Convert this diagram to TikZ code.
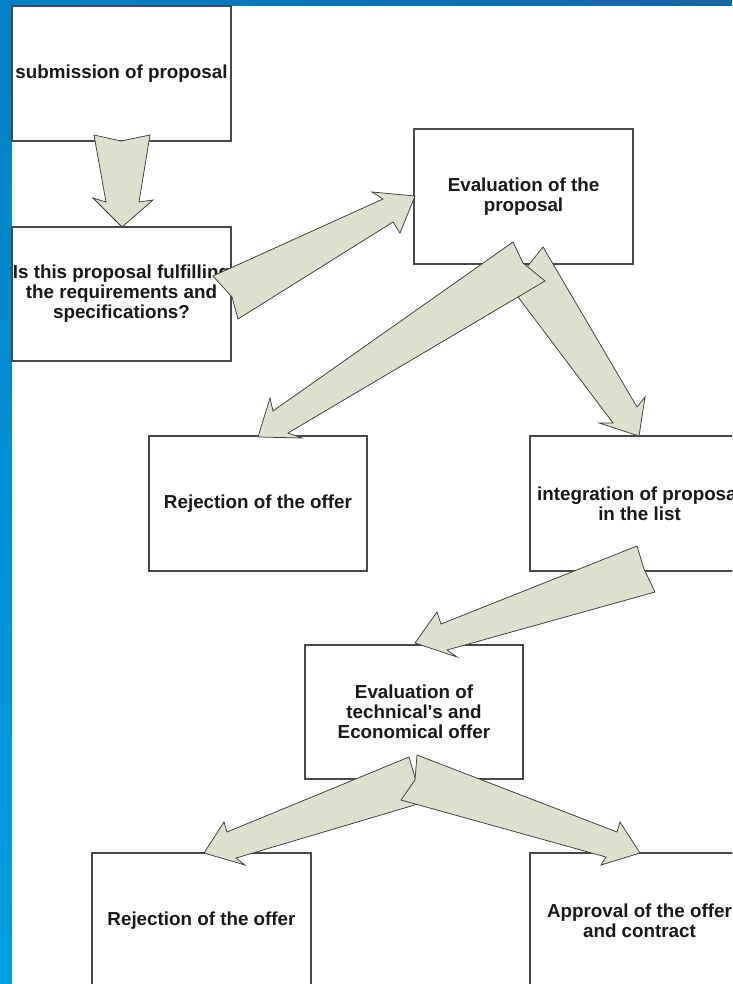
\documentclass[tikz,border=0pt]{standalone}
\usepackage{fontspec}
\newfontfamily\lblfont{Liberation Sans}
\definecolor{arrowfill}{RGB}{221,224,204}
\definecolor{arrowline}{RGB}{60,60,60}
\definecolor{boxline}{RGB}{72,72,72}
\definecolor{stripA}{RGB}{4,128,198}
\definecolor{stripB}{RGB}{26,100,168}
\definecolor{stripC}{RGB}{0,158,224}
\definecolor{txt}{RGB}{25,25,25}
\begin{document}
\begin{tikzpicture}[x=1pt,y=-1pt,
  box/.style={draw=boxline,line width=1.1pt,fill=white,minimum width=219pt,
    minimum height=135pt,inner sep=0pt,align=center,text=txt,
    font=\lblfont\bfseries\fontsize{18.8}{20}\selectfont},
  blockarrow/.style={fill=arrowfill,draw=arrowline,line width=0.75pt,line join=miter}]
\useasboundingbox (0,0) rectangle (732,984);
\clip (0,0) rectangle (732,984);
% background
\shade[top color=stripA,bottom color=stripC] (0,0) rectangle (12,984);
\shade[left color=stripA,right color=stripB] (0,0) rectangle (732,6);
\fill[white] (12,6) rectangle (732,984);
% boxes
\node[box] (b1) at (121.5,73.5) {submission of proposal};
\node[box,minimum height=134pt] (b2) at (121.5,294) {Is this proposal fulfilling\\the requirements and\\specifications?};
\node[box] (b3) at (523.5,196.5) {Evaluation of the\\proposal};
\node[box,minimum width=218pt] (b4) at (258,503.5) {Rejection of the offer};
\node[box] (b5) at (639.5,503.5) {integration of proposal\\in the list};
\node[box,minimum width=218pt,minimum height=134pt] (b6) at (414,712) {Evaluation of\\technical's and\\Economical offer};
\node[box] (b7) at (201.5,920.5) {Rejection of the offer};
\node[box] (b8) at (639.5,920.5) {Approval of the offer\\and contract};
% block arrows
% b1 -> b2
\filldraw[blockarrow] (94,135) -- (121,141) -- (150,135) -- (139,202) -- (153,200)
  -- (122,227) -- (93,198) -- (106,202) -- cycle;
% b2 -> b3
\filldraw[blockarrow] (213,276) -- (232,297) -- (238,319) -- (393,222) -- (400,233)
  -- (415,196) -- (372,192) -- (383,199) -- cycle;
% b3 -> b5
\filldraw[blockarrow] (543,247) -- (637,407) -- (645,397) -- (639,436) -- (599,423)
  -- (613,423) -- (503,277) -- (527,267) -- cycle;
% b3 -> b4
\filldraw[blockarrow] (513,242) -- (523,263) -- (545,281) -- (288,433) -- (302,438)
  -- (258,437) -- (270,398) -- (273,411) -- cycle;
% b5 -> b6
\filldraw[blockarrow] (637,546) -- (644,569) -- (655,592) -- (447,650) -- (457,657)
  -- (415,643) -- (437,612) -- (441,624) -- cycle;
% b6 -> b7
\filldraw[blockarrow] (409,757) -- (416,781) -- (418,804) -- (236,858) -- (245,865)
  -- (204,853) -- (224,822) -- (227,832) -- cycle;
% b6 -> b8
\filldraw[blockarrow] (417,755) -- (617,832) -- (620,822) -- (640,853) -- (601,865)
  -- (606,857) -- (401,800) -- (415,780) -- cycle;
\end{tikzpicture}
\end{document}
